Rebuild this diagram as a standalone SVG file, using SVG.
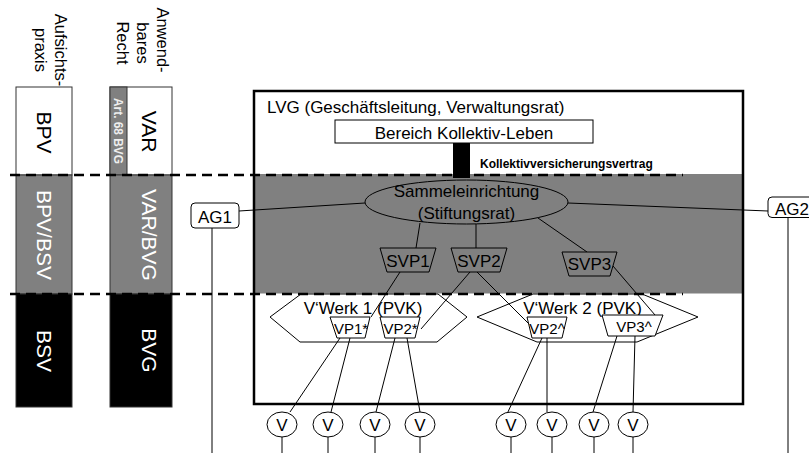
<svg xmlns="http://www.w3.org/2000/svg" width="809" height="453" viewBox="0 0 809 453">
<style>
text{font-family:"Liberation Sans",Arial,sans-serif;fill:#000}
.h{font-size:16.5px}
.c{font-size:21px;text-anchor:middle}
.w{fill:#fff}
.t17{font-size:17px}
.m{text-anchor:middle}
.ln{stroke:#000;stroke-width:1;fill:none}
.shape{stroke:#000;stroke-width:1}
.dash{stroke:#000;stroke-width:2.5;stroke-dasharray:10 6;fill:none}
</style>
<rect width="809" height="453" fill="#fff"/>

<g id="header-aufsicht">
<text class="h m" transform="translate(55,50) rotate(90)">Aufsichts-</text>
<text class="h m" transform="translate(35,50) rotate(90)">praxis</text>
</g>
<g id="header-recht">
<text class="h m" transform="translate(157,40) rotate(90)">Anwend-</text>
<text class="h m" transform="translate(137,43) rotate(90)">bares</text>
<text class="h m" transform="translate(117,43) rotate(90)">Recht</text>
</g>

<g id="col-aufsicht">
<rect x="16" y="87" width="56" height="88" fill="#fff" stroke="#333"/>
<rect x="16" y="175" width="56" height="119" fill="#808080" stroke="#333"/>
<rect x="16" y="294" width="56" height="113" fill="#000" stroke="#333"/>
<text class="c" transform="translate(44,132.5) rotate(90)" y="7.5">BPV</text>
<text class="c w" transform="translate(44,235) rotate(90)" y="7.5">BPV/BSV</text>
<text class="c w" transform="translate(44,351) rotate(90)" y="7.5">BSV</text>
</g>

<g id="col-recht">
<rect x="110" y="87" width="62" height="88" fill="#fff" stroke="#333"/>
<rect x="110" y="87" width="17" height="88" fill="#808080" stroke="#333"/>
<rect x="110" y="175" width="62" height="119" fill="#808080" stroke="#333"/>
<rect x="110" y="294" width="62" height="113" fill="#000" stroke="#333"/>
<text transform="translate(118.5,131) rotate(90)" y="4.5" font-size="12.5" font-weight="bold" text-anchor="middle" textLength="66" lengthAdjust="spacingAndGlyphs" style="fill:#eee">Art. 68 BVG</text>
<text class="c" transform="translate(149,131.5) rotate(90)" y="7.5">VAR</text>
<text class="c w" transform="translate(149,235) rotate(90)" y="7.5">VAR/BVG</text>
<text class="c w" transform="translate(149,350.5) rotate(90)" y="7.5">BVG</text>
</g>

<g id="lvg">
<rect x="254" y="91" width="489" height="313" fill="#fff"/>
<rect x="254" y="174" width="489" height="119.5" fill="#808080"/>
<rect x="254" y="91" width="489" height="313" fill="none" stroke="#000" stroke-width="2.5"/>
<text class="t17" x="267" y="112.5">LVG (Geschäftsleitung, Verwaltungsrat)</text>
</g>

<g id="levels">
<line class="dash" x1="10" y1="175" x2="683" y2="175"/>
<line class="dash" x1="10" y1="294" x2="683" y2="294"/>
</g>

<g id="bereich">
<rect x="335" y="120" width="258" height="23" fill="#fff" stroke="#000"/>
<text class="t17 m" x="464" y="139">Bereich Kollektiv-Leben</text>
</g>

<g id="vwerk1">
<polygon class="shape" fill="none" points="270,317 301,294 438,294 467,317 437,342 300,342"/>
<text class="t17 m" x="363" y="314">V‘Werk 1 (PVK)</text>
</g>
<g id="vwerk2">
<polygon class="shape" fill="none" points="477,317 533,294 642,294 698,317 637,342 537,342"/>
<text class="t17 m" x="582.5" y="314">V‘Werk 2 (PVK)</text>
</g>

<g id="connectors">
<rect x="453" y="143" width="17" height="35" fill="#000"/>
<text x="480" y="168" font-size="12" font-weight="bold">Kollektivversicherungsvertrag</text>
<line class="ln" x1="239" y1="211" x2="365" y2="203"/>
<line class="ln" x1="568" y1="203" x2="768" y2="211"/>
<line class="ln" x1="212" y1="228" x2="212" y2="453"/>
<line class="ln" x1="788" y1="217" x2="788" y2="453"/>
<line class="ln" x1="420" y1="223" x2="416" y2="248"/>
<line class="ln" x1="476" y1="224" x2="476" y2="248"/>
<line class="ln" x1="538" y1="218" x2="587" y2="252"/>
<line class="ln" x1="400" y1="272" x2="371" y2="317"/>
<line class="ln" x1="470" y1="272" x2="421" y2="329"/>
<line class="ln" x1="477" y1="272" x2="532" y2="327"/>
<line class="ln" x1="613" y1="266" x2="655" y2="315"/>
<line class="ln" x1="340" y1="338" x2="290" y2="412"/>
<line class="ln" x1="350" y1="338" x2="331" y2="412"/>
<line class="ln" x1="395" y1="338" x2="376" y2="412"/>
<line class="ln" x1="407" y1="338" x2="420" y2="412"/>
<line class="ln" x1="542" y1="338" x2="507" y2="414"/>
<line class="ln" x1="547" y1="338" x2="547" y2="412"/>
<line class="ln" x1="617" y1="336" x2="593" y2="412"/>
<line class="ln" x1="635" y1="336" x2="633" y2="412"/>
<line class="ln" x1="282" y1="437" x2="282" y2="453"/>
<line class="ln" x1="328" y1="437" x2="328" y2="453"/>
<line class="ln" x1="375" y1="437" x2="375" y2="453"/>
<line class="ln" x1="420" y1="437" x2="420" y2="453"/>
<line class="ln" x1="511" y1="437" x2="511" y2="453"/>
<line class="ln" x1="552" y1="437" x2="552" y2="453"/>
<line class="ln" x1="594" y1="437" x2="594" y2="453"/>
<line class="ln" x1="633" y1="437" x2="633" y2="453"/>
</g>

<g id="sammel">
<ellipse cx="466.5" cy="202" rx="101.5" ry="22" fill="#808080" class="shape"/>
<text class="t17 m" x="466.5" y="197">Sammeleinrichtung</text>
<text class="t17 m" x="466.5" y="219">(Stiftungsrat)</text>
</g>

<g id="ag1">
<rect x="191" y="203" width="48" height="25" rx="4" fill="#fff" class="shape"/>
<text class="t17 m" x="215" y="223">AG1</text>
</g>
<g id="ag2">
<rect x="768" y="197" width="48" height="20.5" rx="4" fill="#fff" class="shape"/>
<text class="t17 m" x="792" y="215">AG2</text>
</g>

<g id="svp1">
<polygon class="shape" fill="#808080" points="380,248 436,248 429,272 387,272"/>
<text class="t17 m" x="408" y="266.5">SVP1</text>
</g>
<g id="svp2">
<polygon class="shape" fill="#808080" points="451,248 507,248 500,272 458,272"/>
<text class="t17 m" x="479" y="266.5">SVP2</text>
</g>
<g id="svp3">
<polygon class="shape" fill="#808080" points="562,252 617,252 610,276 569,276"/>
<text class="t17 m" x="589.5" y="269.5">SVP3</text>
</g>

<g id="vp1s">
<polygon class="shape" fill="#fff" points="330,317 370,317 365,338 337,338"/>
<text class="m" font-size="15" x="351" y="334">VP1*</text>
</g>
<g id="vp2s">
<polygon class="shape" fill="#fff" points="380,317 420,317 415,338 385,338"/>
<text class="m" font-size="15" x="400.5" y="334">VP2*</text>
</g>
<g id="vp2c">
<polygon class="shape" fill="#fff" points="527,317 567,317 562,338 532,338"/>
<text class="m" font-size="15" x="547" y="334">VP2^</text>
</g>
<g id="vp3c">
<polygon class="shape" fill="#fff" points="602,315 663,315 655,336 608,336"/>
<text class="m" font-size="15" x="634" y="332">VP3^</text>
</g>

<g id="v1"><ellipse cx="282" cy="424.5" rx="15" ry="12.5" fill="#fff" class="shape"/><text class="t17 m" x="282" y="430.5">V</text></g>
<g id="v2"><ellipse cx="328" cy="424.5" rx="15" ry="12.5" fill="#fff" class="shape"/><text class="t17 m" x="328" y="430.5">V</text></g>
<g id="v3"><ellipse cx="375" cy="424.5" rx="15" ry="12.5" fill="#fff" class="shape"/><text class="t17 m" x="375" y="430.5">V</text></g>
<g id="v4"><ellipse cx="420" cy="424.5" rx="15" ry="12.5" fill="#fff" class="shape"/><text class="t17 m" x="420" y="430.5">V</text></g>
<g id="v5"><ellipse cx="511" cy="424.5" rx="15" ry="12.5" fill="#fff" class="shape"/><text class="t17 m" x="511" y="430.5">V</text></g>
<g id="v6"><ellipse cx="552" cy="424.5" rx="15" ry="12.5" fill="#fff" class="shape"/><text class="t17 m" x="552" y="430.5">V</text></g>
<g id="v7"><ellipse cx="594" cy="424.5" rx="15" ry="12.5" fill="#fff" class="shape"/><text class="t17 m" x="594" y="430.5">V</text></g>
<g id="v8"><ellipse cx="633" cy="424.5" rx="15" ry="12.5" fill="#fff" class="shape"/><text class="t17 m" x="633" y="430.5">V</text></g>
</svg>
